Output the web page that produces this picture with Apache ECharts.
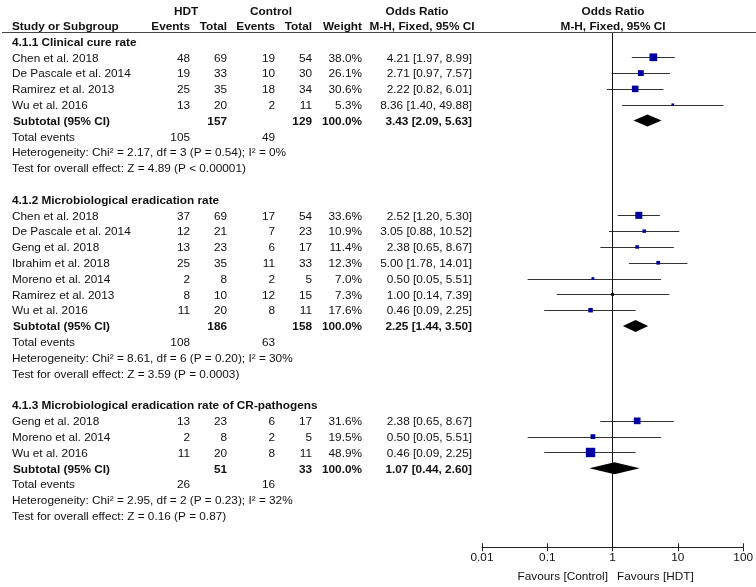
<!DOCTYPE html>
<html><head><meta charset="utf-8">
<script src="https://cdn.jsdelivr.net/npm/echarts@6/dist/echarts.min.js"></script>
<style>html,body{margin:0;padding:0;background:#fff}#c{width:756px;height:587px}</style>
</head><body><div id="c"></div>
<script>
// ---------- data ----------
const groupTitles = ['4.1.1 Clinical cure rate', '4.1.2 Microbiological eradication rate', '4.1.3 Microbiological eradication rate of CR-pathogens'];
const studyGroup = [0,0,0,0, 1,1,1,1,1,1,1, 2,2,2];
const studyNames = ['Chen et al. 2018','De Pascale et al. 2014','Ramirez et al. 2013','Wu et al. 2016',
  'Chen et al. 2018','De Pascale et al. 2014','Geng et al. 2018','Ibrahim et al. 2018','Moreno et al. 2014','Ramirez et al. 2013','Wu et al. 2016',
  'Geng et al. 2018','Moreno et al. 2014','Wu et al. 2016'];
const hdtEvents  = [48,19,25,13, 37,12,13,25,2,8,11, 13,2,11];
const hdtTotal   = [69,33,35,20, 69,21,23,35,8,10,20, 23,8,20];
const ctrlEvents = [19,10,18,2, 17,7,6,11,2,12,8, 6,2,8];
const ctrlTotal  = [54,30,34,11, 54,23,17,33,5,15,11, 17,5,11];
const weights    = [38.0,26.1,30.6,5.3, 33.6,10.9,11.4,12.3,7.0,7.3,17.6, 31.6,19.5,48.9];
const oddsRatio  = [4.21,2.71,2.22,8.36, 2.52,3.05,2.38,5.00,0.50,1.00,0.46, 2.38,0.50,0.46];
const ciLow      = [1.97,0.97,0.82,1.40, 1.20,0.88,0.65,1.78,0.05,0.14,0.09, 0.65,0.05,0.09];
const ciHigh     = [8.99,7.57,6.01,49.88, 5.30,10.52,8.67,14.01,5.51,7.39,2.25, 8.67,5.51,2.25];
const subHdtTotal  = [157,186,51];
const subCtrlTotal = [129,158,33];
const subOR   = [3.43,2.25,1.07];
const subLow  = [2.09,1.44,0.44];
const subHigh = [5.63,3.50,2.60];
const totHdtEvents  = [105,108,26];
const totCtrlEvents = [49,63,16];
const hetTexts = ['Heterogeneity: Chi\u00b2 = 2.17, df = 3 (P = 0.54); I\u00b2 = 0%',
  'Heterogeneity: Chi\u00b2 = 8.61, df = 6 (P = 0.20); I\u00b2 = 30%',
  'Heterogeneity: Chi\u00b2 = 2.95, df = 2 (P = 0.23); I\u00b2 = 32%'];
const testTexts = ['Test for overall effect: Z = 4.89 (P < 0.00001)',
  'Test for overall effect: Z = 3.59 (P = 0.0003)',
  'Test for overall effect: Z = 0.16 (P = 0.87)'];
const axisTicks = [0.01, 0.1, 1, 10, 100];

// ---------- layout ----------
const FONT = 'Liberation Sans, Arial, sans-serif';
const FS = '11.8px ';
const COL = {name: 12, hdtE: 190, hdtT: 227, ctlE: 275, ctlT: 312, wt: 362, ci: 472};
const fmt2 = v => v.toFixed(2);
const ciText = (o,l,h) => fmt2(o) + ' [' + fmt2(l) + ', ' + fmt2(h) + ']';

const texts = [];   // {row, x, align, text, bold}
const squares = []; // [or, row, weight]
const ciLines = []; // [lo, hi, row]
const diamonds = []; // [lo, or, hi, row]
let row = -1;
groupTitles.forEach((title, g) => {
  texts.push({row, x: COL.name, align: 'left', text: title, bold: true});
  row++;
  studyNames.forEach((nm, i) => {
    if (studyGroup[i] !== g) return;
    texts.push({row, x: COL.name, align: 'left', text: nm});
    texts.push({row, x: COL.hdtE, align: 'right', text: String(hdtEvents[i])});
    texts.push({row, x: COL.hdtT, align: 'right', text: String(hdtTotal[i])});
    texts.push({row, x: COL.ctlE, align: 'right', text: String(ctrlEvents[i])});
    texts.push({row, x: COL.ctlT, align: 'right', text: String(ctrlTotal[i])});
    texts.push({row, x: COL.wt, align: 'right', text: weights[i].toFixed(1) + '%'});
    texts.push({row, x: COL.ci, align: 'right', text: ciText(oddsRatio[i], ciLow[i], ciHigh[i])});
    squares.push([oddsRatio[i], row, weights[i]]);
    ciLines.push([ciLow[i], ciHigh[i], row]);
    row++;
  });
  texts.push({row, x: COL.name + 1, align: 'left', text: 'Subtotal (95% CI)', bold: true});
  texts.push({row, x: COL.hdtT, align: 'right', text: String(subHdtTotal[g]), bold: true});
  texts.push({row, x: COL.ctlT, align: 'right', text: String(subCtrlTotal[g]), bold: true});
  texts.push({row, x: COL.wt, align: 'right', text: '100.0%', bold: true});
  texts.push({row, x: COL.ci, align: 'right', text: ciText(subOR[g], subLow[g], subHigh[g]), bold: true});
  diamonds.push([subLow[g], subOR[g], subHigh[g], row]);
  row++;
  texts.push({row, x: COL.name, align: 'left', text: 'Total events'});
  texts.push({row, x: COL.hdtE, align: 'right', text: String(totHdtEvents[g])});
  texts.push({row, x: COL.ctlE, align: 'right', text: String(totCtrlEvents[g])});
  row++;
  texts.push({row, x: COL.name, align: 'left', text: hetTexts[g]});
  row++;
  texts.push({row, x: COL.name, align: 'left', text: testTexts[g]});
  row += 2;
});

const chart = echarts.init(document.getElementById('c'), null, {renderer: 'canvas'});
const txtStyle = (bold) => ({font: (bold ? 'bold ' : '') + FS + FONT, fill: '#111'});
const hdr = (x, y, text, align) => ({type: 'text', x, y, style: {text, align, verticalAlign: 'middle', font: 'bold ' + FS + FONT, fill: '#111'}});

const option = {
  animation: false,
  backgroundColor: '#fff',
  grid: {left: 482, right: 12, top: 32, bottom: 39.7, containLabel: false},
  xAxis: [{
    type: 'log', logBase: 10, min: 0.01, max: 100, position: 'bottom',
    axisLine: {show: true, onZero: false, lineStyle: {color: '#222', width: 1}},
    axisTick: {show: true, length: 4, lineStyle: {color: '#222'}},
    axisLabel: {show: true, margin: 4, color: '#111', fontSize: 11.8, fontFamily: FONT,
      formatter: v => { const t = axisTicks.find(a => Math.abs(Math.log10(a) - Math.log10(v)) < 1e-6); return t === undefined ? '' : String(t); }},
    splitLine: {show: false}, minorTick: {show: false}
  }, {
    type: 'log', logBase: 10, min: 0.01, max: 100, position: 'bottom', offset: 0,
    axisLine: {show: false, onZero: false},
    axisTick: {show: true, inside: true, length: 4, lineStyle: {color: '#222'}},
    axisLabel: {show: false}, splitLine: {show: false}
  }],
  yAxis: {type: 'value', inverse: true, min: -1.6, max: 31, show: false},
  graphic: [
    {type: 'line', shape: {x1: 2, y1: 32.5, x2: 756, y2: 32.5}, style: {stroke: '#444', lineWidth: 1}, z: 10},
    hdr(186, 12, 'HDT', 'center'),
    hdr(271, 12, 'Control', 'center'),
    hdr(417, 12, 'Odds Ratio', 'center'),
    hdr(613, 12, 'Odds Ratio', 'center'),
    hdr(12, 27, 'Study or Subgroup', 'left'),
    hdr(COL.hdtE, 27, 'Events', 'right'),
    hdr(COL.hdtT, 27, 'Total', 'right'),
    hdr(COL.ctlE, 27, 'Events', 'right'),
    hdr(COL.ctlT, 27, 'Total', 'right'),
    hdr(COL.wt, 27, 'Weight', 'right'),
    hdr(422, 27, 'M-H, Fixed, 95% CI', 'center'),
    hdr(613, 27, 'M-H, Fixed, 95% CI', 'center'),
    {type: 'text', x: 608, y: 577, style: {text: 'Favours [Control]', align: 'right', verticalAlign: 'middle', font: FS + FONT, fill: '#111'}},
    {type: 'text', x: 617, y: 577, style: {text: 'Favours [HDT]', align: 'left', verticalAlign: 'middle', font: FS + FONT, fill: '#111'}}
  ],
  series: [
    {
      type: 'custom', name: 'ci', coordinateSystem: 'cartesian2d', clip: false,
      encode: {x: [0, 1], y: 2},
      data: ciLines,
      renderItem: (params, api) => {
        const p1 = api.coord([api.value(0), api.value(2)]);
        const p2 = api.coord([api.value(1), api.value(2)]);
        return {type: 'line', shape: {x1: p1[0], y1: Math.round(p1[1]) + 0.5, x2: p2[0], y2: Math.round(p2[1]) + 0.5}, style: {stroke: '#333', lineWidth: 1}};
      },
      z: 2,
      markLine: {
        silent: true, symbol: ['none', 'none'], label: {show: false},
        lineStyle: {color: '#111', width: 1, type: 'solid'},
        data: [{xAxis: 1}]
      }
    },
    {
      type: 'scatter', name: 'studies', symbol: 'rect',
      symbolSize: v => 1.8 + 0.155 * v[2],
      itemStyle: {color: '#0000a0', opacity: 1},
      data: squares, z: 4
    },
    {
      type: 'custom', name: 'subtotal', coordinateSystem: 'cartesian2d', clip: false,
      encode: {x: [0, 1, 2], y: 3},
      data: diamonds,
      renderItem: (params, api) => {
        const r = api.value(3);
        const pl = api.coord([api.value(0), r]);
        const po = api.coord([api.value(1), r]);
        const ph = api.coord([api.value(2), r]);
        const h = 6;
        return {type: 'polygon', shape: {points: [[pl[0], pl[1]], [po[0], po[1] - h], [ph[0], ph[1]], [po[0], po[1] + h]]}, style: {fill: '#000'}};
      },
      z: 5
    },
    {
      type: 'custom', name: 'table', coordinateSystem: 'cartesian2d', clip: false,
      encode: {x: 0, y: 1},
      data: texts.map(t => [1, t.row]),
      renderItem: (params, api) => {
        const t = texts[params.dataIndex];
        const y = api.coord([1, api.value(1)])[1] + 1;
        return {type: 'text', x: t.x, y: y, style: Object.assign({text: t.text, align: t.align, verticalAlign: 'middle'}, txtStyle(t.bold))};
      },
      z: 6
    }
  ]
};
chart.setOption(option);
</script>
</body></html>
